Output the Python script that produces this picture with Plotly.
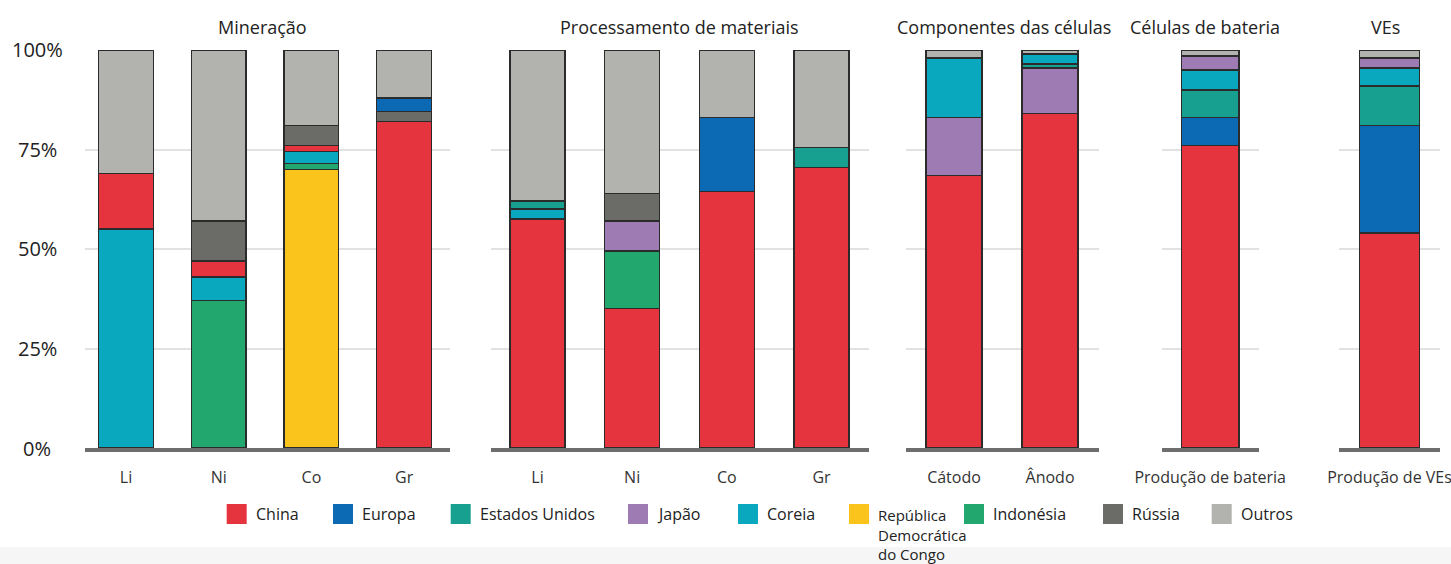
import plotly.graph_objects as go

W, H = 1451, 564

# Stages of the chain (one panel each) and the bars inside every panel
panels = ["Mineração", "Processamento de materiais", "Componentes das células",
          "Células de bateria", "VEs"]
panel_categories = [
    ["Li", "Ni", "Co", "Gr"],
    ["Li", "Ni", "Co", "Gr"],
    ["Cátodo", "Ânodo"],
    ["Produção de bateria"],
    ["Produção de VEs"],
]

# Share (%) of each region, one value per bar in reading order:
# Min Li, Min Ni, Min Co, Min Gr, Proc Li, Proc Ni, Proc Co, Proc Gr,
# Cátodo, Ânodo, Produção de bateria, Produção de VEs   (None = no share)
china          = [14,   4,    1.5,  82,   57.5, 35,   64.5, 70.5, 68.5, 84,   76,  54]
europa         = [None, None, None, 3.5,  None, None, 18.5, None, None, None, 7,   27]
estados_unidos = [None, None, None, None, 2,    None, None, 5,    None, 1,    7,   10]
japao          = [None, None, None, None, None, 7.5,  None, None, 14.5, 11.5, 3.5, 2.5]
coreia         = [55,   6,    3,    None, 2.5,  None, None, None, 15,   2.5,  5,   4.5]
rdc            = [None, None, 70,   None, None, None, None, None, None, None, None, None]
indonesia      = [None, 37,   1.5,  None, None, 14.5, None, None, None, None, None, None]
russia         = [None, 10,   5,    2.5,  None, 7,    None, None, None, None, None, None]
outros         = [31,   43,   19,   12,   38,   36,   17,   24.5, 2,    1,    1.5, 2]

series = {
    "China": china,
    "Europa": europa,
    "Estados Unidos": estados_unidos,
    "Japão": japao,
    "Coreia": coreia,
    "República Democrática do Congo": rdc,
    "Indonésia": indonesia,
    "Rússia": russia,
    "Outros": outros,
}

colors = {
    "China": "#E6343F",
    "Europa": "#0C69B3",
    "Estados Unidos": "#17A08F",
    "Japão": "#9F7BB4",
    "Coreia": "#0AA8BE",
    "República Democrática do Congo": "#FBC41C",
    "Indonésia": "#22A86F",
    "Rússia": "#6B6B68",
    "Outros": "#B2B2AE",
}

# Bottom-to-top stacking order inside each panel
stack_order = [
    ["República Democrática do Congo", "Indonésia", "Coreia", "China", "Rússia", "Europa", "Outros"],
    ["China", "Indonésia", "Japão", "Rússia", "Europa", "Coreia", "Estados Unidos", "Outros"],
    ["China", "Japão", "Estados Unidos", "Coreia", "Outros"],
    ["China", "Europa", "Estados Unidos", "Coreia", "Japão", "Outros"],
    ["China", "Europa", "Estados Unidos", "Coreia", "Japão", "Outros"],
]

# Panel geometry (pixels) and category ranges
panel_px = [(84.6, 449.5), (490.7, 868.6), (905.6, 1098.8), (1161.7, 1258.7), (1339, 1440)]
panel_range = [[-0.447, 3.49], [-0.494, 3.497], [-0.504, 1.508], [-0.5, 0.5], [-0.5, 0.5]]
bar_width = [0.59, 0.58, 0.585, 0.59, 0.59]
title_cx = [262, 679.6, 1004, 1204.8, 1385]

y_bottom_px, y_top_px = 448, 50
FONT = "Open Sans"


def px(x):
    return x / W


def py(y):
    return 1 - y / H


fig = go.Figure()

start = 0
for p, cats in enumerate(panel_categories):
    idx = slice(start, start + len(cats))
    start += len(cats)
    xname = "x" if p == 0 else f"x{p + 1}"
    for name in stack_order[p]:
        vals = series[name][idx]
        if all(v is None for v in vals):
            continue
        fig.add_trace(go.Bar(
            x=cats, y=vals, xaxis=xname, yaxis="y",
            width=bar_width[p],
            marker=dict(color=colors[name], line=dict(color="#2b2b2b", width=1.5)),
            name=name, showlegend=False,
            hovertemplate="%{x}: %{y}%<extra>" + name + "</extra>",
        ))

layout = dict(
    width=W, height=H,
    margin=dict(l=0, r=0, t=0, b=0, autoexpand=False),
    barmode="stack",
    paper_bgcolor="white", plot_bgcolor="white",
    font=dict(family=FONT, color="#222"),
    yaxis=dict(
        domain=[py(y_bottom_px), py(y_top_px)], range=[0, 100],
        tickvals=[0, 25, 50, 75, 100], showticklabels=False,
        showgrid=True, gridcolor="#E2E2E2", gridwidth=2,
        zeroline=False, showline=False, ticks="", automargin=False,
    ),
)
for p in range(len(panels)):
    key = "xaxis" if p == 0 else f"xaxis{p + 1}"
    layout[key] = dict(
        domain=[px(panel_px[p][0]), px(panel_px[p][1])],
        range=panel_range[p], type="category", anchor="y",
        showgrid=False, zeroline=False, ticks="", automargin=False,
        showline=True, linecolor="#6E6E6E", linewidth=4,
        tickfont=dict(size=16, color="#333"), ticklabelstandoff=12,
    )
fig.update_layout(**layout)

annotations = []
# Panel titles
for p, title in enumerate(panels):
    annotations.append(dict(
        x=px(title_cx[p]), y=py(26.5), xref="paper", yref="paper",
        text=title, showarrow=False, xanchor="center", yanchor="middle",
        font=dict(size=18, color="#222"),
    ))
# Percentage labels of the value axis
for v in [0, 25, 50, 75, 100]:
    annotations.append(dict(
        x=px(37), y=v, xref="paper", yref="y", text=f"{v}%",
        showarrow=False, xanchor="center", yanchor="middle",
        font=dict(size=20, color="#222"),
    ))

# Legend: swatch + label per region
legend_x = [226.7, 333, 450.7, 628, 738, 849, 964, 1103, 1211.7]
legend_cy = 514
legend_labels = {"República Democrática do Congo": "República<br>Democrática<br>do Congo"}
shapes = [dict(type="rect", xref="paper", yref="paper", x0=0, x1=1, y0=0, y1=py(547),
               fillcolor="#F6F6F6", line=dict(width=0), layer="below")]
for name, x0 in zip(series.keys(), legend_x):
    shapes.append(dict(type="rect", xref="paper", yref="paper",
                       x0=px(x0), x1=px(x0 + 20), y0=py(legend_cy + 10), y1=py(legend_cy - 10),
                       fillcolor=colors[name], line=dict(width=0)))
    if name in legend_labels:
        annotations.append(dict(
            x=px(x0 + 27), y=py(legend_cy - 11), xref="paper", yref="paper",
            text=legend_labels[name], showarrow=False,
            xanchor="left", yanchor="top", align="left",
            font=dict(size=15, color="#222"),
        ))
    else:
        annotations.append(dict(
            x=px(x0 + 27), y=py(legend_cy), xref="paper", yref="paper",
            text=name, showarrow=False, xanchor="left", yanchor="middle",
            font=dict(size=16, color="#222"),
        ))

fig.update_layout(annotations=annotations, shapes=shapes)
fig.write_html("out.html")
